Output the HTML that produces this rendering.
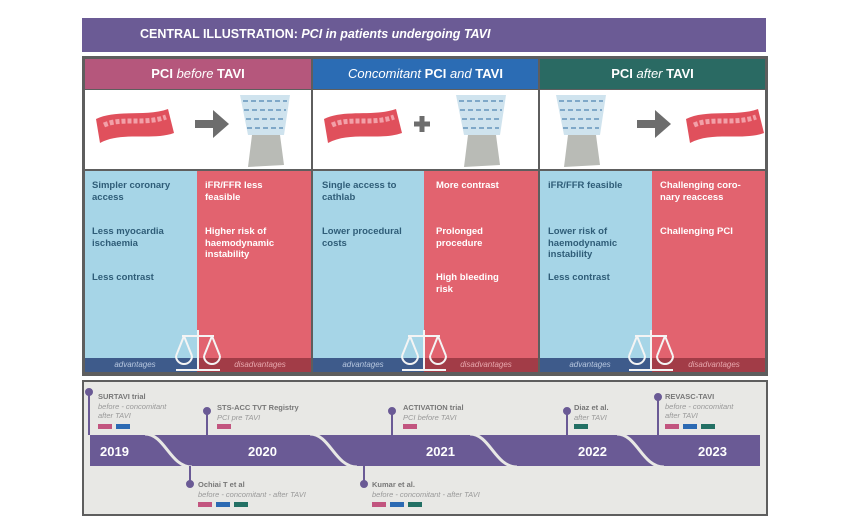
<!DOCTYPE html>
<html><head><meta charset="utf-8"><style>
*{margin:0;padding:0;box-sizing:border-box}
body{width:854px;height:528px;background:#fff;position:relative;overflow:hidden;font-family:"Liberation Sans",sans-serif}
.a{position:absolute}
.t{font-size:9.5px;font-weight:bold;color:#2f5d78;line-height:11.5px}
.r{color:#fff}
.h{color:#fff;font-size:13px;font-weight:bold;text-align:center;line-height:30px}
.f{font-size:8px;font-style:italic;line-height:12px;text-align:center}
</style></head><body>
<div class="a" style="left:82px;top:18px;width:684px;height:34px;background:#6b5b95"></div>
<div class="a" style="left:140px;top:27px;color:#fff;font-size:12.5px;font-weight:bold">CENTRAL ILLUSTRATION: <i>PCI in patients undergoing TAVI</i></div>

<div class="a" style="left:82px;top:56px;width:686px;height:320px;background:#5e5e5e"></div>
<div class="a h" style="left:85px;top:59px;width:226px;height:30px;background:#b5577c">PCI <i style="font-weight:normal">before</i> TAVI</div>
<div class="a h" style="left:313px;top:59px;width:225px;height:30px;background:#2b6cb4"><i style="font-weight:normal">Concomitant</i> PCI <i style="font-weight:normal">and</i> TAVI</div>
<div class="a h" style="left:540px;top:59px;width:225px;height:30px;background:#2a6a63">PCI <i style="font-weight:normal">after</i> TAVI</div>
<div class="a" style="left:85px;top:90px;width:226px;height:79px;background:#fff"></div>
<div class="a" style="left:313px;top:90px;width:225px;height:79px;background:#fff"></div>
<div class="a" style="left:540px;top:90px;width:225px;height:79px;background:#fff"></div>
<svg class="a" style="left:0;top:0" width="854" height="528">
<defs>
<g id="v"><path d="M0,10 C20,0 50,8 72,0 L78,24 C56,32 26,22 4,34 Z" fill="#e0505c"/><path d="M8,16 C26,8 48,16 70,8" stroke="#f2a0a8" stroke-width="5" fill="none" stroke-dasharray="4 2"/></g>
<g id="s"><path d="M2,0 L48,0 L40,40 L44,70 L8,72 L12,40 Z" fill="#b9bbb6"/><path d="M0,0 L50,0 L44,40 L8,40 Z" fill="#cfe3ee"/><path d="M3,6 L47,6 M4,15 L46,15 M6,24 L44,24 M7,33 L43,33" stroke="#7fa8c8" stroke-width="2" stroke-dasharray="5 3"/></g>
<g id="ar"><rect x="0" y="-4" width="22" height="8" fill="#6d6d6d"/><path d="M18,-14 L34,0 L18,14 Z" fill="#6d6d6d"/></g>
</defs>
<use href="#v" x="96" y="109"/><use href="#ar" x="195" y="124"/><use href="#s" x="240" y="95"/>
<use href="#v" x="324" y="109"/><path d="M414,124 h16 M422,116 v16" stroke="#6d6d6d" stroke-width="5"/><use href="#s" x="456" y="95"/>
<use href="#s" x="556" y="95"/><use href="#ar" x="637" y="124"/><use href="#v" x="686" y="109"/>
</svg>
<div class="a" style="left:85px;top:171px;width:112px;height:187px;background:#a6d5e7"></div>
<div class="a" style="left:197px;top:171px;width:114px;height:187px;background:#e2636f"></div>
<div class="a" style="left:313px;top:171px;width:111px;height:187px;background:#a6d5e7"></div>
<div class="a" style="left:424px;top:171px;width:114px;height:187px;background:#e2636f"></div>
<div class="a" style="left:540px;top:171px;width:112px;height:187px;background:#a6d5e7"></div>
<div class="a" style="left:652px;top:171px;width:113px;height:187px;background:#e2636f"></div>
<div class="a" style="left:85px;top:358px;width:112px;height:14px;background:#3e5b8b"></div>
<div class="a" style="left:197px;top:358px;width:114px;height:14px;background:#a23c47"></div>
<div class="a" style="left:313px;top:358px;width:111px;height:14px;background:#3e5b8b"></div>
<div class="a" style="left:424px;top:358px;width:114px;height:14px;background:#a23c47"></div>
<div class="a" style="left:540px;top:358px;width:112px;height:14px;background:#3e5b8b"></div>
<div class="a" style="left:652px;top:358px;width:113px;height:14px;background:#a23c47"></div>
<div class="a f" style="left:85px;top:359px;width:100px;color:#b8c8e0">advantages</div>
<div class="a f" style="left:210px;top:359px;width:100px;color:#e8a8ae">disadvantages</div>
<div class="a f" style="left:313px;top:359px;width:100px;color:#b8c8e0">advantages</div>
<div class="a f" style="left:436px;top:359px;width:100px;color:#e8a8ae">disadvantages</div>
<div class="a f" style="left:540px;top:359px;width:100px;color:#b8c8e0">advantages</div>
<div class="a f" style="left:664px;top:359px;width:100px;color:#e8a8ae">disadvantages</div>

<div class="a t" style="left:92px;top:180px">Simpler coronary<br>access<br><br><br>Less myocardia<br>ischaemia<br><br><br>Less contrast</div>
<div class="a t r" style="left:205px;top:180px">iFR/FFR less<br>feasible<br><br><br>Higher risk of<br>haemodynamic<br>instability</div>
<div class="a t" style="left:322px;top:180px">Single access to<br>cathlab<br><br><br>Lower procedural<br>costs</div>
<div class="a t r" style="left:436px;top:180px">More contrast<br><br><br><br>Prolonged<br>procedure<br><br><br>High bleeding<br>risk</div>
<div class="a t" style="left:548px;top:180px">iFR/FFR feasible<br><br><br><br>Lower risk of<br>haemodynamic<br>instability<br><br>Less contrast</div>
<div class="a t r" style="left:660px;top:180px">Challenging coro-<br>nary reaccess<br><br><br>Challenging PCI</div>

<svg class="a" style="left:0;top:0" width="854" height="528">
<g fill="none" stroke="#f4f4f4" stroke-width="2">
<g id="sc"><path d="M198,330 v40 M176,370 h44 M182,336 h32 M184,336 l-8,20 M184,336 l8,20 M212,336 l-8,20 M212,336 l8,20 M176,356 a8,8 0 0 0 16,0 M204,356 a8,8 0 0 0 16,0"/></g>
<use href="#sc" x="226"/><use href="#sc" x="453"/>
</g>
</svg>

<div class="a" style="left:82px;top:380px;width:686px;height:136px;background:#5e5e5e"></div>
<div class="a" style="left:84px;top:382px;width:682px;height:132px;background:#e8e8e5"></div>
<svg class="a" style="left:0;top:0" width="854" height="528">
<rect x="90" y="435" width="670" height="31" fill="#6a5a95"/>
<g fill="none" stroke="#e8e8e5" stroke-width="3">
<path d="M145,434 C165,434 170,467 192,467"/>
<path d="M310,434 C330,434 335,467 357,467"/>
<path d="M470,434 C490,434 495,467 517,467"/>
<path d="M617,434 C637,434 642,467 664,467"/>
</g>
<g stroke="#6a5a95" stroke-width="2" fill="#6a5a95">
<line x1="89" y1="392" x2="89" y2="435"/><circle cx="89" cy="392" r="3"/>
<line x1="207" y1="411" x2="207" y2="435"/><circle cx="207" cy="411" r="3"/>
<line x1="392" y1="411" x2="392" y2="435"/><circle cx="392" cy="411" r="3"/>
<line x1="567" y1="411" x2="567" y2="435"/><circle cx="567" cy="411" r="3"/>
<line x1="658" y1="397" x2="658" y2="435"/><circle cx="658" cy="397" r="3"/>
<line x1="190" y1="466" x2="190" y2="484"/><circle cx="190" cy="484" r="3"/>
<line x1="364" y1="466" x2="364" y2="484"/><circle cx="364" cy="484" r="3"/>
</g>
<g font-family="Liberation Sans" font-size="13" font-weight="bold" fill="#fff">
<text x="100" y="456">2019</text><text x="248" y="456">2020</text><text x="426" y="456">2021</text><text x="578" y="456">2022</text><text x="698" y="456">2023</text>
</g>
<g font-family="Liberation Sans" font-size="7.5" fill="#999">
<text x="98" y="399" font-weight="bold" fill="#777">SURTAVI trial</text>
<text x="98" y="409" font-style="italic">before - concomitant</text><text x="98" y="418" font-style="italic">after TAVI</text>
<text x="217" y="410" font-weight="bold" fill="#777">STS-ACC TVT Registry</text><text x="217" y="420" font-style="italic">PCI pre TAVI</text>
<text x="403" y="410" font-weight="bold" fill="#777">ACTIVATION trial</text><text x="403" y="420" font-style="italic">PCI before TAVI</text>
<text x="574" y="410" font-weight="bold" fill="#777">Diaz et al.</text><text x="574" y="420" font-style="italic">after TAVI</text>
<text x="665" y="399" font-weight="bold" fill="#777">REVASC-TAVI</text>
<text x="665" y="409" font-style="italic">before - concomitant</text><text x="665" y="418" font-style="italic">after TAVI</text>
<text x="198" y="487" font-weight="bold" fill="#777">Ochiai T et al</text><text x="198" y="497" font-style="italic">before - concomitant - after TAVI</text>
<text x="372" y="487" font-weight="bold" fill="#777">Kumar et al.</text><text x="372" y="497" font-style="italic">before - concomitant - after TAVI</text>
</g>
<g>
<rect x="98" y="424" width="14" height="5" fill="#c2557f"/><rect x="116" y="424" width="14" height="5" fill="#2c6ab3"/>
<rect x="217" y="424" width="14" height="5" fill="#c2557f"/>
<rect x="403" y="424" width="14" height="5" fill="#c2557f"/>
<rect x="574" y="424" width="14" height="5" fill="#237064"/>
<rect x="665" y="424" width="14" height="5" fill="#c2557f"/><rect x="683" y="424" width="14" height="5" fill="#2c6ab3"/><rect x="701" y="424" width="14" height="5" fill="#237064"/>
<rect x="198" y="502" width="14" height="5" fill="#c2557f"/><rect x="216" y="502" width="14" height="5" fill="#2c6ab3"/><rect x="234" y="502" width="14" height="5" fill="#237064"/>
<rect x="372" y="502" width="14" height="5" fill="#c2557f"/><rect x="390" y="502" width="14" height="5" fill="#2c6ab3"/><rect x="408" y="502" width="14" height="5" fill="#237064"/>
</g>
</svg>
</body></html>
